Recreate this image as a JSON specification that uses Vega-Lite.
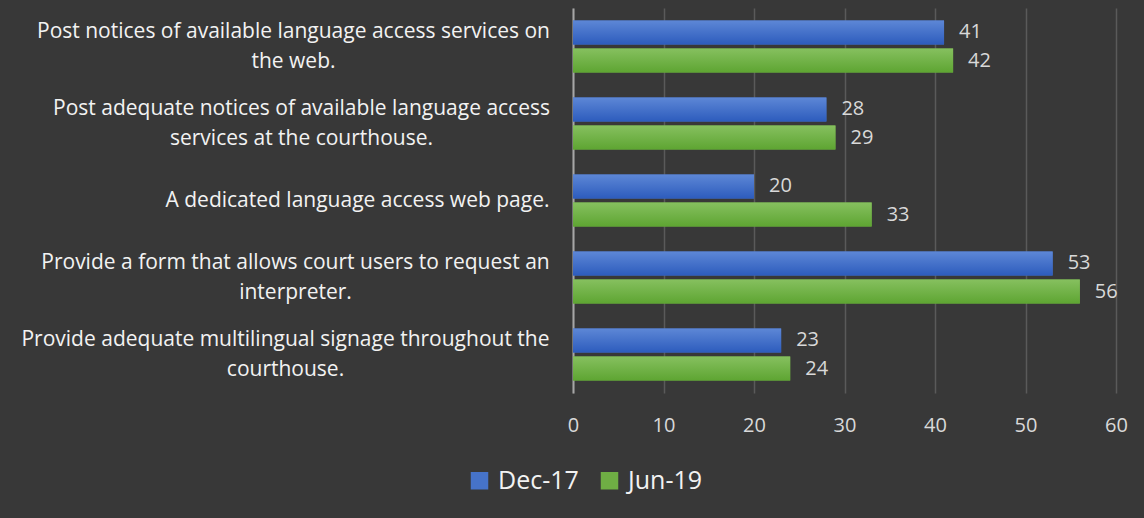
{
  "$schema": "https://vega.github.io/schema/vega-lite/v6.json",
  "autosize": {"type": "none"},
  "width": 543,
  "height": 385,
  "padding": {"left": 573, "top": 8, "right": 28, "bottom": 125},
  "background": "#383838",
  "config": {
    "font": "Open Sans",
    "view": {"stroke": null},
    "axis": {"labelFont": "Open Sans"},
    "legend": {"labelFont": "Open Sans"}
  },
  "data": {
    "values": [
      {"item": "Post notices of available language access services on|the web.", "series": "Dec-17", "value": 41},
      {"item": "Post notices of available language access services on|the web.", "series": "Jun-19", "value": 42},
      {"item": "Post adequate notices of available language access|services at the courthouse.", "series": "Dec-17", "value": 28},
      {"item": "Post adequate notices of available language access|services at the courthouse.", "series": "Jun-19", "value": 29},
      {"item": "A dedicated language access web page.", "series": "Dec-17", "value": 20},
      {"item": "A dedicated language access web page.", "series": "Jun-19", "value": 33},
      {"item": "Provide a form that allows court users to request an|interpreter.", "series": "Dec-17", "value": 53},
      {"item": "Provide a form that allows court users to request an|interpreter.", "series": "Jun-19", "value": 56},
      {"item": "Provide adequate multilingual signage throughout the|courthouse.", "series": "Dec-17", "value": 23},
      {"item": "Provide adequate multilingual signage throughout the|courthouse.", "series": "Jun-19", "value": 24}
    ]
  },
  "encoding": {
    "y": {
      "field": "item", "type": "nominal", "sort": null,
      "scale": {"paddingInner": 0, "paddingOuter": 0},
      "axis": {
        "title": null, "ticks": false, "grid": false,
        "domain": true, "domainColor": "#a6a6a6", "domainWidth": 2,
        "labelExpr": "split(datum.label, '|')",
        "labelFontSize": 21, "labelColor": "#f2f2f2", "labelLineHeight": 30,
        "labelLimit": 0, "labelAlign": "center",
        "labelPadding": {
          "condition": [
            {"test": "indexof(datum.value, 'Post notices') == 0", "value": 280},
            {"test": "indexof(datum.value, 'Post adequate') == 0", "value": 272},
            {"test": "indexof(datum.value, 'A dedicated') == 0", "value": 216},
            {"test": "indexof(datum.value, 'Provide a form') == 0", "value": 278}
          ],
          "value": 288
        },
        "labelBaseline": {"condition": {"test": "indexof(datum.value, '|') >= 0", "value": "line-bottom"}, "value": "middle"}
      }
    },
    "yOffset": {
      "field": "series", "type": "nominal",
      "scale": {"paddingInner": 0.143, "paddingOuter": 0.446}
    },
    "x": {
      "field": "value", "type": "quantitative",
      "scale": {"domain": [0, 60], "nice": false},
      "axis": {
        "title": null, "values": [0, 10, 20, 30, 40, 50, 60],
        "grid": true, "gridColor": "#5a5a5a", "gridWidth": 1.5,
        "domain": false, "ticks": false, "labelFlush": false,
        "labelColor": "#d9d9d9", "labelFontSize": 20, "labelPadding": 22
      }
    }
  },
  "layer": [
    {
      "mark": {"type": "bar"},
      "encoding": {
        "color": {
          "field": "series", "type": "nominal",
          "scale": {"domain": ["Dec-17", "Jun-19"], "range": ["#4673c9", "#6fae44"]},
          "legend": {
            "title": null, "orient": "none", "direction": "horizontal",
            "legendX": -106, "legendY": 460,
            "symbolType": "square", "symbolSize": 306, "symbolStrokeWidth": 0,
            "labelFontSize": 25, "labelColor": "#f2f2f2", "labelOffset": 6,
            "columnPadding": 18
          }
        }
      }
    },
    {
      "transform": [{"filter": "datum.series == 'Dec-17'"}],
      "mark": {
        "type": "bar",
        "color": {"gradient": "linear", "x1": 0, "y1": 0, "x2": 0, "y2": 1,
          "stops": [{"offset": 0, "color": "#5d87d6"}, {"offset": 1, "color": "#2d5cbd"}]}
      }
    },
    {
      "transform": [{"filter": "datum.series == 'Jun-19'"}],
      "mark": {
        "type": "bar",
        "color": {"gradient": "linear", "x1": 0, "y1": 0, "x2": 0, "y2": 1,
          "stops": [{"offset": 0, "color": "#86c05f"}, {"offset": 1, "color": "#5ea532"}]}
      }
    },
    {
      "mark": {"type": "text", "align": "left", "baseline": "middle", "dx": 15, "fontSize": 20, "color": "#d9d9d9", "font": "Open Sans"},
      "encoding": {"text": {"field": "value", "type": "quantitative"}}
    }
  ]
}
